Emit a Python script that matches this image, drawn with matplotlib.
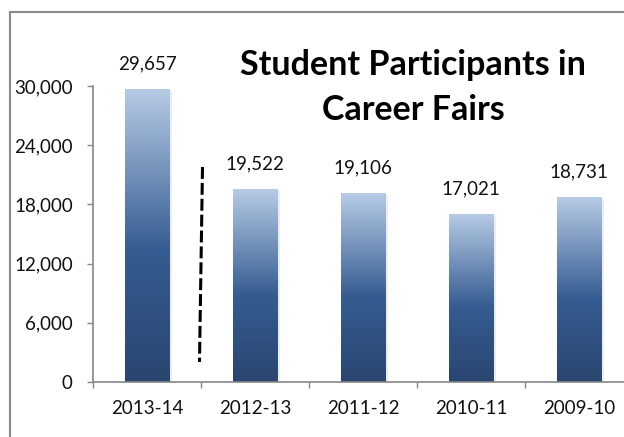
import matplotlib.pyplot as plt
import numpy as np
from matplotlib.colors import LinearSegmentedColormap
from matplotlib.lines import Line2D
from matplotlib.patches import Rectangle
from matplotlib.ticker import FuncFormatter

# --- data ---
years = ['2013-14', '2012-13', '2011-12', '2010-11', '2009-10']
participants = [29657, 19522, 19106, 17021, 18731]
y_ticks = [0, 6000, 12000, 18000, 24000, 30000]
# dashed separator between the first and second bar (x, y in data units)
sep_x = [0.514, 0.486]
sep_y = [21790, 2030]

plt.rcParams['font.family'] = ['Lato', 'DejaVu Sans']

fig = plt.figure(figsize=(6.24, 4.37), dpi=100)
ax = fig.add_axes([93 / 624, 55 / 437, 540 / 624, 296 / 437])

# light at the top, dark blue below -- like the office gradient fill
grad = LinearSegmentedColormap.from_list(
    'bar', [(0.0, '#2a4670'), (0.45, '#355c91'), (1.0, '#b6cbe5')])

width = 0.41
for i, v in enumerate(participants):
    # faint drop shadow
    ax.add_patch(Rectangle((i - width / 2 + 0.015, -150), width + 0.01, v,
                           color='black', alpha=0.07, lw=0, zorder=1))
    g = np.linspace(0, 1, 256).reshape(-1, 1)
    ax.imshow(g, cmap=grad, aspect='auto', origin='lower',
              extent=[i - width / 2, i + width / 2, 0, v], zorder=2)
    ax.annotate(f'{v:,}', (i, v), xytext=(0, 12), textcoords='offset points',
                ha='center', va='bottom', fontsize=13.5, color='#111111')

ax.plot(sep_x, sep_y, color='black', lw=2.2, dashes=(3.9, 1.3), zorder=3)

ax.set_xlim(-0.5, len(years) - 0.5)
ax.set_ylim(0, 30000)

ax.set_yticks(y_ticks)
ax.yaxis.set_major_formatter(FuncFormatter(lambda v, p: f'{int(v):,}'))
ax.tick_params(axis='y', length=4.5, width=1, color='#868686', pad=10,
               labelsize=13.5, labelcolor='#111111')

ax.set_xticks(range(len(years)))
ax.set_xticklabels(years)
ax.set_xticks(np.arange(-0.5, len(years)), minor=True)
ax.tick_params(axis='x', which='major', length=0, pad=13, labelsize=13.5,
               labelcolor='#111111')
ax.tick_params(axis='x', which='minor', length=4.5, width=1, color='#868686')

for s in ['top', 'right']:
    ax.spines[s].set_visible(False)
for s in ['left', 'bottom']:
    ax.spines[s].set_color('#868686')
    ax.spines[s].set_linewidth(1.2)

fig.text(413 / 624, 1 - 65 / 437, 'Student Participants in', ha='center',
         va='center', fontsize=24.5, fontweight='bold')
fig.text(413 / 624, 1 - 110 / 437, 'Career Fairs', ha='center',
         va='center', fontsize=24.5, fontweight='bold')

# chart-area border: only the left and top edges are in the picture
bx, by = 10 / 624, 1 - 12 / 437
fig.add_artist(Line2D([bx, bx], [0, by], color='#8a8a8a', lw=1.5))
fig.add_artist(Line2D([bx, 1], [by, by], color='#8a8a8a', lw=1.5))

plt.savefig('out.png', dpi=100)
plt.close()
